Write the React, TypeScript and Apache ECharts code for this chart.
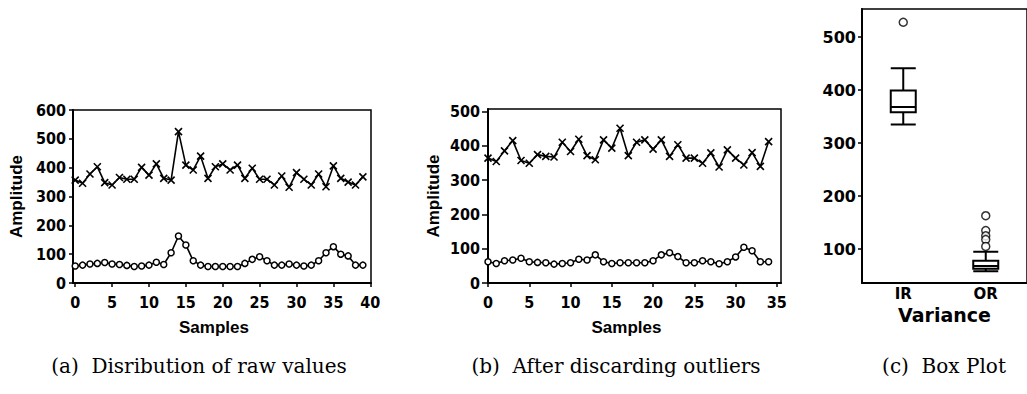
import { useEffect, useRef } from "react";
import * as echarts from "echarts";

// ---- data ----
const rawCross = [357, 346, 378, 403, 348, 340, 366, 360, 360, 401, 374, 413, 363, 357, 525, 409, 392, 440, 363, 403, 413, 392, 409, 363, 398, 360, 360, 340, 371, 332, 383, 360, 340, 378, 334, 406, 363, 350, 340, 368];
const rawCircle = [59, 62, 66, 68, 71, 66, 64, 61, 57, 59, 62, 72, 64, 105, 163, 132, 77, 62, 57, 57, 57, 57, 57, 68, 82, 91, 77, 62, 62, 66, 62, 59, 62, 77, 105, 126, 100, 94, 62, 62];
const cleanCross = [364, 354, 385, 415, 357, 349, 374, 369, 367, 410, 383, 419, 371, 359, 417, 393, 451, 371, 410, 417, 390, 417, 369, 403, 364, 364, 349, 379, 338, 388, 364, 344, 380, 340, 412];
const cleanCircle = [62, 57, 65, 67, 72, 62, 60, 59, 55, 57, 59, 69, 67, 82, 62, 57, 59, 59, 59, 59, 65, 82, 88, 77, 59, 59, 65, 62, 56, 62, 76, 104, 94, 62, 62];

const boxCategories = ["IR", "OR"];
const irBox = [335, 358, 368, 399, 441]; // min, Q1, median, Q3, max
const orBox = [58, 63, 68, 78, 95];
const irOutliers = [528];
const orOutliers = [163, 135, 125, 118, 105];

const ticksA_x = [0, 5, 10, 15, 20, 25, 30, 35, 40];
const ticksB_x = [0, 5, 10, 15, 20, 25, 30, 35];
const ticksB_y = [0, 100, 200, 300, 400, 500];
const ticksC_y = [100, 200, 300, 400, 500];

const captions = ["(a)  Disribution of raw values", "(b)  After discarding outliers", "(c)  Box Plot"];

const NARROW = "'Liberation Sans Narrow', 'DejaVu Sans Condensed', 'Liberation Sans', sans-serif";
const SANS = "'Liberation Sans', Arial, sans-serif";
const DJ = "'DejaVu Sans', sans-serif";
const SERIF = "'DejaVu Serif', serif";

const CROSS = "path://M0,0L10,10M10,0L0,10";

const axisLine = { show: true, onZero: false, lineStyle: { color: "#000", width: 2 } };
const tickStyle = { color: "#000", width: 1.5 };

export default function App() {
  const ref = useRef<HTMLDivElement>(null);
  useEffect(() => {
    if (!ref.current) return;
    const chart = echarts.init(ref.current, null, { renderer: "svg" });
    const tickLabelA = { color: "#000", fontFamily: NARROW, fontWeight: "bold" as const, fontSize: 16 };
    const nameStyle = { color: "#000", fontFamily: SANS, fontWeight: "bold" as const, fontSize: 17 };
    const lineSeries = (data: number[], xi: number, circle: boolean) => ({
      type: "line",
      xAxisIndex: xi,
      yAxisIndex: xi,
      data: data.map((v, i) => [i, v]),
      symbol: circle ? "circle" : CROSS,
      symbolSize: circle ? 6 : 7,
      showSymbol: true,
      lineStyle: { color: "#000", width: 1.6 },
      itemStyle: circle
        ? { color: "#fff", borderColor: "#000", borderWidth: 1.5 }
        : { color: "#000", borderColor: "#000", borderWidth: 1.6 },
      z: circle ? 3 : 2,
    });
    const captionFont = `20px ${SERIF}`;
    chart.setOption({
      animation: false,
      backgroundColor: "#fff",
      grid: [
        { left: 73, top: 110, width: 298, height: 173, show: true, borderColor: "#000", borderWidth: 1.5, backgroundColor: "transparent" },
        { left: 488, top: 109, width: 293, height: 174, show: true, borderColor: "#000", borderWidth: 1.5, backgroundColor: "transparent" },
        { left: 862, top: 9, width: 165, height: 274, show: true, borderColor: "#000", borderWidth: 1.5, backgroundColor: "transparent" },
      ],
      xAxis: [
        {
          type: "value", gridIndex: 0, min: -0.3, max: 40.1,
          axisLine, splitLine: { show: false },
          axisTick: { show: true, length: 4, lineStyle: tickStyle, customValues: ticksA_x },
          axisLabel: { ...tickLabelA, margin: 11, customValues: ticksA_x },
          name: "Samples", nameLocation: "middle", nameGap: 36,
          nameTextStyle: { ...nameStyle, padding: [0, 16, 0, 0] },
        },
        {
          type: "value", gridIndex: 1, min: 0, max: 35.5,
          axisLine, splitLine: { show: false },
          axisTick: { show: true, length: 4, lineStyle: tickStyle, customValues: ticksB_x },
          axisLabel: { ...tickLabelA, margin: 11, customValues: ticksB_x },
          name: "Samples", nameLocation: "middle", nameGap: 36,
          nameTextStyle: { ...nameStyle, padding: [0, 16, 0, 0] },
        },
        {
          type: "category", gridIndex: 2, data: boxCategories, boundaryGap: true,
          axisLine, splitLine: { show: false },
          axisTick: { show: false },
          axisLabel: { color: "#000", fontFamily: DJ, fontWeight: "bold", fontSize: 15, margin: 3 },
          name: "Variance", nameLocation: "middle", nameGap: 17,
          nameTextStyle: { color: "#000", fontFamily: DJ, fontWeight: "bold", fontSize: 19 },
        },
      ],
      yAxis: [
        {
          type: "value", gridIndex: 0, min: 0, max: 600, interval: 100,
          axisLine, splitLine: { show: false },
          axisTick: { show: true, length: 4, lineStyle: tickStyle },
          axisLabel: { ...tickLabelA, margin: 7 },
          name: "Amplitude", nameLocation: "middle", nameGap: 48, nameRotate: 90, nameTextStyle: nameStyle,
        },
        {
          type: "value", gridIndex: 1, min: 0, max: 507,
          axisLine, splitLine: { show: false },
          axisTick: { show: true, length: 6, lineStyle: tickStyle, customValues: ticksB_y },
          axisLabel: { ...tickLabelA, margin: 8, customValues: ticksB_y },
          name: "Amplitude", nameLocation: "middle", nameGap: 46, nameRotate: 90, nameTextStyle: nameStyle,
        },
        {
          type: "value", gridIndex: 2, min: 36, max: 553,
          axisLine, splitLine: { show: false },
          axisTick: { show: true, length: 4, lineStyle: tickStyle, customValues: ticksC_y },
          axisLabel: { color: "#000", fontFamily: DJ, fontWeight: "bold", fontSize: 16, margin: 6, customValues: ticksC_y },
        },
      ],
      series: [
        lineSeries(rawCross, 0, false),
        lineSeries(rawCircle, 0, true),
        lineSeries(cleanCross, 1, false),
        lineSeries(cleanCircle, 1, true),
        {
          type: "boxplot",
          xAxisIndex: 2,
          yAxisIndex: 2,
          data: [irBox, orBox],
          boxWidth: [25, 25],
          itemStyle: { color: "#fff", borderColor: "#000", borderWidth: 2 },
        },
        {
          type: "scatter",
          xAxisIndex: 2,
          yAxisIndex: 2,
          data: [
            ...irOutliers.map((v) => [0, v]),
            ...orOutliers.map((v) => [1, v]),
          ],
          symbol: "circle",
          symbolSize: 8,
          itemStyle: { color: "#fff", borderColor: "#000", borderWidth: 1.5 },
        },
      ],
      graphic: [
        { type: "text", x: 199, y: 366, style: { text: captions[0], fill: "#000", font: captionFont, textAlign: "center", textVerticalAlign: "middle" } },
        { type: "text", x: 616, y: 366, style: { text: captions[1], fill: "#000", font: captionFont, textAlign: "center", textVerticalAlign: "middle" } },
        { type: "text", x: 944, y: 366, style: { text: captions[2], fill: "#000", font: captionFont, textAlign: "center", textVerticalAlign: "middle" } },
      ],
    });
    return () => chart.dispose();
  }, []);
  return <div ref={ref} style={{ position: "absolute", left: 0, top: 0, width: 1027, height: 394 }} />;
}
